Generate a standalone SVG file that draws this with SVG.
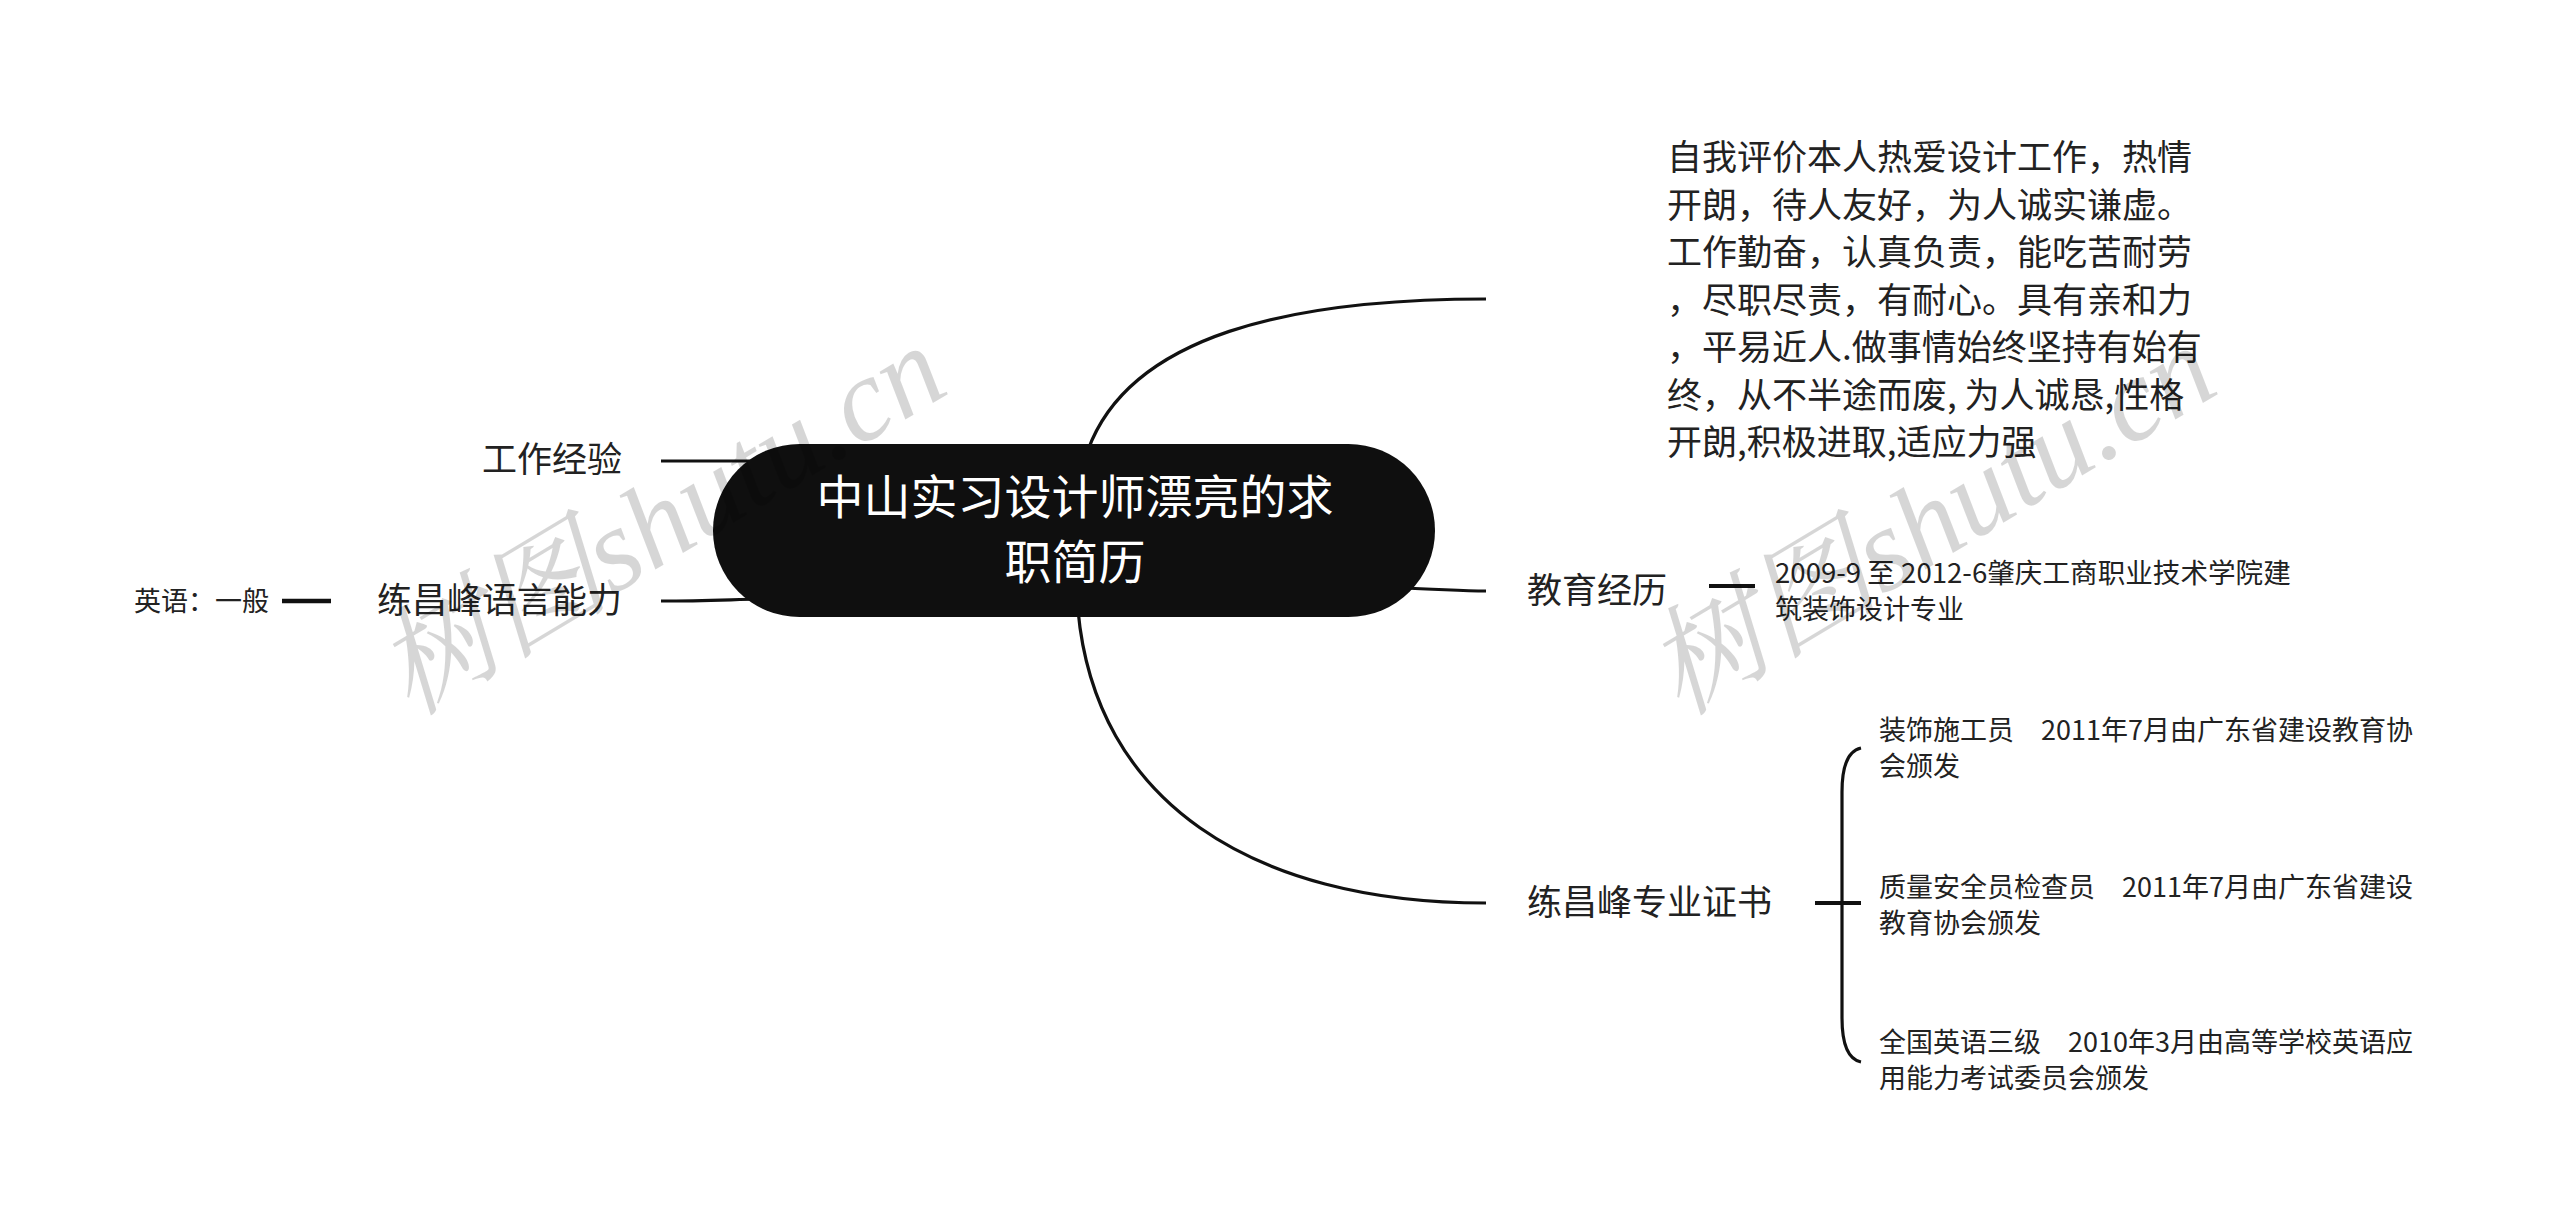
<svg xmlns="http://www.w3.org/2000/svg" width="2560" height="1227" viewBox="0 0 2560 1227">
<style>
.t{font-family:"Noto Sans CJK SC","Noto Sans",sans-serif;fill:#222;}
.big{font-size:35px;}
.sm{font-size:27px;}
.c{stroke:#111;stroke-width:3.2;fill:none;}
.wm{font-family:"Liberation Serif","Noto Serif CJK SC","Noto Sans CJK SC",serif;font-style:italic;font-size:118px;fill:#000;fill-opacity:0.16;}
</style>
<rect width="2560" height="1227" fill="#fff"/>
<g id="connectors">
<path class="c" d="M1088,450 C1130,335 1290,299 1486,299"/>
<path class="c" d="M1400,588 C1440,589 1460,591 1486,591"/>
<path class="c" d="M1078,610 C1095,800 1250,903 1486,903"/>
<path class="c" d="M661,461 L760,461"/>
<path class="c" d="M661,601 C700,601 720,600 760,599"/>
<path class="c" d="M282,601 L331,601" style="stroke-width:4.5"/>
<path class="c" d="M1709,586 L1755,586" style="stroke-width:4"/>
<path class="c" d="M1815,903 L1861,903" style="stroke-width:4"/>
<path class="c" d="M1861,748 Q1842,752 1842,792 L1842,1018 Q1842,1058 1861,1062"/>
</g>
<g id="root">
<rect x="713" y="444" width="722" height="173" rx="86.5" fill="#0f0f0f"/>
<text class="t" x="1075" y="514" font-size="47" text-anchor="middle" style="fill:#fff">中山实习设计师漂亮的求</text>
<text class="t" x="1075" y="579" font-size="47" text-anchor="middle" style="fill:#fff">职简历</text>
</g>
<g id="n-self">
<text class="t big" x="1667" y="170">自我评价本人热爱设计工作，热情</text>
<text class="t big" x="1667" y="217.5">开朗，待人友好，为人诚实谦虚。</text>
<text class="t big" x="1667" y="265">工作勤奋，认真负责，能吃苦耐劳</text>
<text class="t big" x="1667" y="312.5">，尽职尽责，有耐心。具有亲和力</text>
<text class="t big" x="1667" y="360">，平易近人.做事情始终坚持有始有</text>
<text class="t big" x="1667" y="407.5">终，从不半途而废, 为人诚恳,性格</text>
<text class="t big" x="1667" y="455">开朗,积极进取,适应力强</text>
</g>
<g id="n-edu">
<text class="t big" x="1527" y="603">教育经历</text>
</g>
<g id="n-edu-detail">
<text class="t sm" x="1775" y="583" style="font-size:27.6px">2009-9 至 2012-6肇庆工商职业技术学院建</text>
<text class="t sm" x="1775" y="619">筑装饰设计专业</text>
</g>
<g id="n-cert">
<text class="t big" x="1527" y="915">练昌峰专业证书</text>
</g>
<g id="n-cert1">
<text class="t sm" x="1879" y="740">装饰施工员　2011年7月由广东省建设教育协</text>
<text class="t sm" x="1879" y="776">会颁发</text>
</g>
<g id="n-cert2">
<text class="t sm" x="1879" y="897">质量安全员检查员　2011年7月由广东省建设</text>
<text class="t sm" x="1879" y="933">教育协会颁发</text>
</g>
<g id="n-cert3">
<text class="t sm" x="1879" y="1052">全国英语三级　2010年3月由高等学校英语应</text>
<text class="t sm" x="1879" y="1088">用能力考试委员会颁发</text>
</g>
<g id="n-work">
<text class="t big" x="622" y="472" text-anchor="end">工作经验</text>
</g>
<g id="n-lang">
<text class="t big" x="622" y="613" text-anchor="end">练昌峰语言能力</text>
</g>
<g id="n-lang-detail">
<text class="t sm" x="269" y="611" text-anchor="end">英语：一般</text>
</g>
<g id="watermarks">
<text class="wm" x="660" y="560" text-anchor="middle" transform="rotate(-31 660 519)">树图shutu.cn</text>
<text class="wm" x="1930" y="560" text-anchor="middle" transform="rotate(-31 1930 519)">树图shutu.cn</text>
</g>
</svg>
